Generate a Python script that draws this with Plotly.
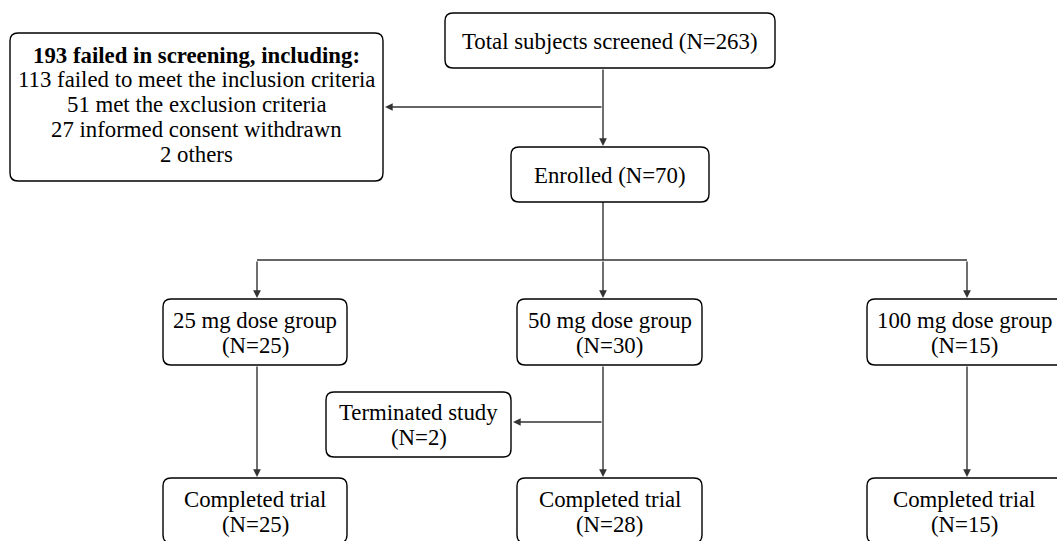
import plotly.graph_objects as go

# ---- data ----
screened_total = 263
failed_total = 193
failed_reasons = ["failed to meet the inclusion criteria", "met the exclusion criteria",
                  "informed consent withdrawn", "others"]
failed_counts = [113, 51, 27, 2]
enrolled_total = 70
dose_groups = ["25 mg dose group", "50 mg dose group", "100 mg dose group"]
dose_n = [25, 30, 15]
completed_n = [25, 28, 15]
terminated_n = 2

W, H = 1057, 541
BOX_COLOR = "#000000"
LINE_COLOR = "#333333"
FONT = "Liberation Serif, Times New Roman, serif"
FS = 22.8

fig = go.Figure()
shapes = []
annotations = []


def rbox(x0, y0, x1, y1, r=8):
    path = (f"M {x0+r},{y0} L {x1-r},{y0} Q {x1},{y0} {x1},{y0+r} "
            f"L {x1},{y1-r} Q {x1},{y1} {x1-r},{y1} L {x0+r},{y1} "
            f"Q {x0},{y1} {x0},{y1-r} L {x0},{y0+r} Q {x0},{y0} {x0+r},{y0} Z")
    shapes.append(dict(type="path", path=path, xref="x", yref="y",
                       line=dict(color=BOX_COLOR, width=1.4), fillcolor="white", layer="above"))


def text(x, y, s, size=FS):
    annotations.append(dict(x=x, y=y, xref="x", yref="y", text=s, showarrow=False,
                            font=dict(family=FONT, size=size, color="black"),
                            xanchor="center", yanchor="middle"))


def line(x0, y0, x1, y1):
    shapes.append(dict(type="line", x0=x0, y0=y0, x1=x1, y1=y1, xref="x", yref="y",
                       line=dict(color=LINE_COLOR, width=1.4), layer="below"))


def arrow(x0, y0, x1, y1):
    annotations.append(dict(x=x1, y=y1, ax=x0, ay=y0, xref="x", yref="y", axref="x", ayref="y",
                            text="", showarrow=True, arrowhead=2, arrowsize=1.1,
                            arrowwidth=1.4, arrowcolor=LINE_COLOR))


# Total screened
rbox(445, 13, 775, 68)
text(610, 41, f"Total subjects screened (N={screened_total})")

# Failed box
rbox(10, 33, 383, 181)
fail_lines = [f"<b>{failed_total} failed in screening, including:</b>"] + \
    [f"{c} {r}" for c, r in zip(failed_counts, failed_reasons)]
for i, s in enumerate(fail_lines):
    text(196.5, 55 + i * 24.8, s)

# Enrolled
rbox(511, 147, 709, 202)
text(610, 175, f"Enrolled (N={enrolled_total})")

# Connectors top
arrow(603, 68, 603, 146)
arrow(603, 107, 385, 107)
line(603, 202, 603, 260)
line(257, 260, 967, 260)

group_box = [(163, 347), (517, 702), (867, 1064)]
arrow_x = [257, 603, 967]
for (x0, x1), ax_, g, n, c in zip(group_box, arrow_x, dose_groups, dose_n, completed_n):
    arrow(ax_, 260, ax_, 298)
    rbox(x0, 299, x1, 365)
    cx = (x0 + x1) / 2 if x1 < 1060 else 964
    text(cx, 320, g)
    text(cx, 345, f"(N={n})")
    arrow(ax_, 365, ax_, 477)
    rbox(x0, 478, x1, 543)
    text(cx, 499, "Completed trial")
    text(cx, 524, f"(N={c})")

# Terminated
rbox(326, 392, 511, 457)
text(418.5, 412, "Terminated study")
text(418.5, 437, f"(N={terminated_n})")
arrow(603, 422, 513, 422)

fig.update_layout(
    width=W, height=H, margin=dict(l=0, r=0, t=0, b=0),
    paper_bgcolor="white", plot_bgcolor="white",
    xaxis=dict(range=[0, W], visible=False, fixedrange=True),
    yaxis=dict(range=[H, 0], visible=False, fixedrange=True),
    shapes=shapes, annotations=annotations, showlegend=False,
)
fig.write_html("out.html", config={"displayModeBar": False},
               post_script="document.body.style.margin='0';document.body.style.overflow='hidden';")
